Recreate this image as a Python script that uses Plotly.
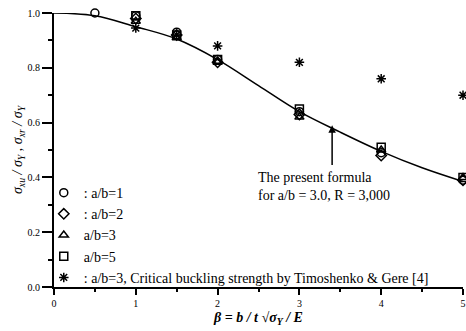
import plotly.graph_objects as go

# Present formula curve
curve_beta = [0, 0.5, 1.0, 1.5, 2.0, 2.5, 3.0, 3.5, 4.0, 4.5, 5.0]
curve_val = [1.0, 0.99, 0.95, 0.905, 0.83, 0.735, 0.64, 0.565, 0.495, 0.435, 0.385]

beta1 = [0.5, 1, 1.5, 2, 3, 4, 5]
ab1 = [1.0, 0.99, 0.93, 0.83, 0.64, 0.49, 0.39]
beta_n = [1, 1.5, 2, 3, 4, 5]
ab2 = [0.98, 0.92, 0.82, 0.63, 0.48, 0.39]
ab3 = [0.97, 0.91, 0.82, 0.62, 0.50, 0.40]
ab5 = [0.99, 0.92, 0.83, 0.65, 0.51, 0.40]
timo = [0.945, 0.92, 0.88, 0.82, 0.76, 0.70]

x_ticks = [0, 1, 2, 3, 4, 5]
y_ticks = [0.0, 0.2, 0.4, 0.6, 0.8, 1.0]

names = [": a/b=1", ": a/b=2", "a/b=3", "a/b=5",
         ": a/b=3, Critical buckling strength by Timoshenko & Gere [4]"]

FONT = "Liberation Serif"
fig = go.Figure()
fig.add_trace(go.Scatter(x=curve_beta, y=curve_val, mode="lines",
                         line=dict(color="black", width=1.5, shape="spline"),
                         showlegend=False, cliponaxis=False))
series = [(beta1, ab1, "circle-open"), (beta_n, ab2, "diamond-open"),
          (beta_n, ab3, "triangle-up-open"), (beta_n, ab5, "square-open"),
          (beta_n, timo, "asterisk-open")]
for (bx, by, sym), nm in zip(series, names):
    fig.add_trace(go.Scatter(x=bx, y=by, mode="markers", name=nm,
                             marker=dict(symbol=sym, size=8, color="black",
                                         line=dict(color="black", width=1.5)),
                             cliponaxis=False))

fig.add_annotation(x=3.4, y=0.59, ax=3.4, ay=0.44, xref="x", yref="y",
                   axref="x", ayref="y", showarrow=True, arrowhead=2,
                   arrowsize=1, arrowwidth=1.5, arrowcolor="black", text="")
fig.add_annotation(x=3.3, y=0.365, xref="x", yref="y", showarrow=False,
                   text="The present formula<br>for a/b = 3.0, R = 3,000",
                   align="left", font=dict(family=FONT, size=14, color="black"))

fig.update_layout(
    width=466, height=331, margin=dict(l=54, r=3, t=13, b=44),
    plot_bgcolor="white", paper_bgcolor="white",
    font=dict(family=FONT, color="black"),
    legend=dict(x=-0.025, y=-0.022, xanchor="left", yanchor="bottom",
                bgcolor="rgba(0,0,0,0)", font=dict(family=FONT, size=14),
                tracegroupgap=0),
    xaxis=dict(range=[0, 5], tickvals=x_ticks, ticktext=[str(v) for v in x_ticks],
               ticklabeloverflow="allow", automargin=False,
               showgrid=False, zeroline=False,
               showline=True, linecolor="black", linewidth=2,
               ticks="outside", ticklen=6, tickwidth=1.5, tickcolor="black",
               tickfont=dict(family=FONT, size=10),
               minor=dict(dtick=0.5, ticks="outside", ticklen=3, tickcolor="black"),
               title=dict(text="<b><i>β = b / t √σ<sub>Y</sub> / E</i></b>",
                          font=dict(family=FONT, size=14), standoff=4)),
    yaxis=dict(range=[0, 1.0], tickvals=y_ticks, tickformat=".1f", showgrid=False,
               zeroline=False, showline=True, linecolor="black", linewidth=2,
               ticks="outside", ticklen=10, tickwidth=1.5, tickcolor="black",
               tickfont=dict(family=FONT, size=10),
               minor=dict(dtick=0.1, ticks="outside", ticklen=4, tickcolor="black"),
               title=dict(text="<i>σ<sub>xu</sub> / σ<sub>Y</sub> , σ<sub>xr</sub> / σ<sub>Y</sub></i>",
                          font=dict(family=FONT, size=14), standoff=2)),
)
fig.write_html("out.html")
